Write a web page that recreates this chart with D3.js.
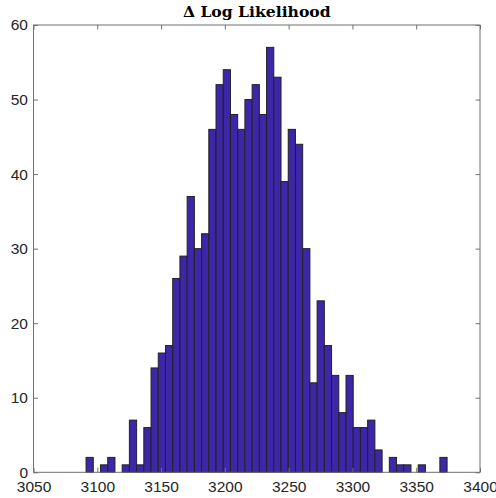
<!DOCTYPE html>
<html>
<head>
<meta charset="utf-8">
<script src="https://cdn.jsdelivr.net/npm/d3@7"></script>
<style>
  html, body { margin: 0; padding: 0; background: #fff; }
  svg { display: block; }
</style>
</head>
<body>
<svg id="chart" width="496" height="498"></svg>
<script>
// ---- data ----
const titleText = "\u0394 Log Likelihood";
const binStart = 3091.2;
const binWidth = 5.66;
const counts = [2,0,1,2,0,1,7,1,6,14,16,17,26,29,37,30,32,46,52,54,48,46,50,52,48,57,53,39,46,44,30,12,23,17,13,8,13,6,6,7,3,0,2,1,1,0,1,0,0,2];
const xTicks = [3050,3100,3150,3200,3250,3300,3350,3400];
const yTicks = [0,10,20,30,40,50,60];
const xDomain = [3050, 3400];
const yDomain = [0, 60];

// ---- layout ----
const mLeft = 33.5, mRight = 480, mTop = 25, mBottom = 472.3;
const svg = d3.select("#chart");
const x = d3.scaleLinear().domain(xDomain).range([mLeft, mRight]);
const y = d3.scaleLinear().domain(yDomain).range([mBottom, mTop]);

const bins = counts.map((c, i) => ({x0: binStart + i * binWidth, x1: binStart + (i + 1) * binWidth, n: c}));

// bars
svg.append("g").selectAll("rect").data(bins).join("rect")
  .attr("x", d => x(d.x0))
  .attr("y", d => y(d.n))
  .attr("width", d => x(d.x1) - x(d.x0))
  .attr("height", d => y(0) - y(d.n))
  .attr("fill", "#3e26a8")
  .attr("stroke", "#222")
  .attr("stroke-width", 1);

const axisColor = "#707070";
const labelColor = "#262626";
const fontFam = "'Liberation Sans', Arial, Helvetica, sans-serif";
const fs = "15.5px";

// box
svg.append("rect").attr("x", mLeft).attr("y", mTop).attr("width", mRight - mLeft).attr("height", mBottom - mTop)
  .attr("fill", "none").attr("stroke", axisColor).attr("stroke-width", 1);

// axes via d3 axis
const tickLen = 4.5;
const gB = svg.append("g").attr("transform", `translate(0,${mBottom})`)
  .call(d3.axisBottom(x).tickValues(xTicks).tickSize(-tickLen).tickPadding(9).tickFormat(d3.format("d")));
const gT = svg.append("g").attr("transform", `translate(0,${mTop})`)
  .call(d3.axisTop(x).tickValues(xTicks).tickSize(-tickLen).tickFormat(""));
const gL = svg.append("g").attr("transform", `translate(${mLeft},0)`)
  .call(d3.axisLeft(y).tickValues(yTicks).tickSize(-tickLen).tickPadding(5.5).tickFormat(d3.format("d")));
const gR = svg.append("g").attr("transform", `translate(${mRight},0)`)
  .call(d3.axisRight(y).tickValues(yTicks).tickSize(-tickLen).tickFormat(""));

[gB, gT, gL, gR].forEach(g => {
  g.select(".domain").remove();
  g.selectAll(".tick line").attr("stroke", axisColor).attr("stroke-width", 1);
  g.selectAll(".tick text").attr("fill", labelColor).style("font-family", fontFam).style("font-size", fs);
});

// title
svg.append("text")
  .attr("x", (mLeft + mRight) / 2)
  .attr("y", 17)
  .attr("text-anchor", "middle")
  .style("font-family", "'DejaVu Serif', 'Liberation Serif', serif")
  .style("font-weight", "bold")
  .style("font-size", "15.6px")
  .attr("fill", "#000")
  .text(titleText);
</script>
</body>
</html>
